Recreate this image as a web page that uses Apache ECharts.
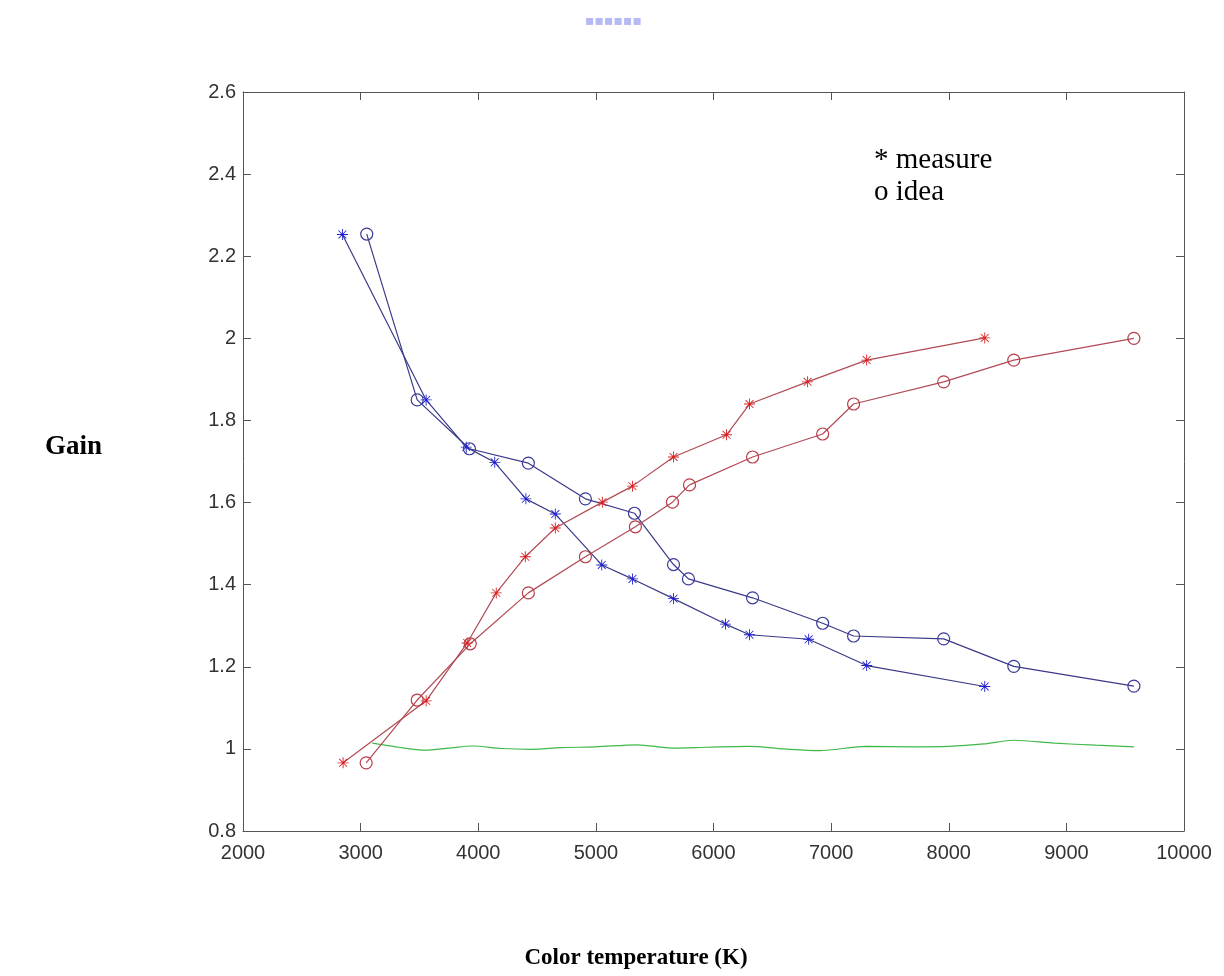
<!DOCTYPE html>
<html>
<head>
<meta charset="utf-8">
<script src="https://cdn.jsdelivr.net/npm/echarts@6/dist/echarts.min.js"></script>
<style>
html,body{margin:0;padding:0;background:#fff;}
#chart{width:1224px;height:976px;}
</style>
</head>
<body>
<div id="chart"></div>
<script>
// Color temperature (K) and gain values
var blueMeasureX = [2845, 3557, 3898, 4140, 4405, 4655, 5050, 5311, 5660, 6102, 6306, 6809, 7302, 8306];
var blueMeasureY = [2.253, 1.850, 1.735, 1.698, 1.609, 1.572, 1.448, 1.414, 1.366, 1.304, 1.278, 1.267, 1.203, 1.152];

var blueIdeaX = [3052, 3481, 3925, 4426, 4911, 5328, 5660, 5787, 6332, 6928, 7191, 7957, 8553, 9574];
var blueIdeaY = [2.254, 1.850, 1.731, 1.696, 1.609, 1.574, 1.449, 1.414, 1.368, 1.306, 1.275, 1.268, 1.201, 1.153];

var redMeasureX = [2851, 3557, 3906, 4153, 4400, 4655, 5055, 5311, 5660, 6111, 6306, 6800, 7302, 8306];
var redMeasureY = [0.966, 1.117, 1.258, 1.380, 1.468, 1.538, 1.601, 1.640, 1.711, 1.765, 1.840, 1.894, 1.947, 2.001];

var redIdeaX = [3047, 3481, 3932, 4426, 4911, 5336, 5651, 5796, 6332, 6928, 7191, 7957, 8553, 9574];
var redIdeaY = [0.966, 1.119, 1.256, 1.380, 1.468, 1.541, 1.601, 1.643, 1.711, 1.767, 1.840, 1.894, 1.947, 2.000];

var greenX = [3100, 3300, 3550, 3750, 3950, 4200, 4450, 4700, 5000, 5350, 5650, 5950, 6300, 6600, 6900, 7300, 7700, 8000, 8300, 8550, 8900, 9250, 9574];
var greenY = [1.014, 1.005, 0.997, 1.002, 1.007, 1.001, 0.999, 1.003, 1.005, 1.010, 1.002, 1.004, 1.006, 1.000, 0.996, 1.006, 1.005, 1.006, 1.012, 1.021, 1.014, 1.009, 1.005];

var xTicks = [2000, 3000, 4000, 5000, 6000, 7000, 8000, 9000, 10000];
var yTicks = [0.8, 1, 1.2, 1.4, 1.6, 1.8, 2, 2.2, 2.4, 2.6];

var yTitle = 'Gain';
var xTitle = 'Color temperature (K)';
var legendLines = ['* measure', 'o idea'];

function pairs(xs, ys) { return xs.map(function (x, i) { return [x, ys[i]]; }); }

var asterisk = 'path://M9.2 0 L10.8 0 L10.8 20 L9.2 20 Z M0 9.2 L20 9.2 L20 10.8 L0 10.8 Z ' +
  'M2.3 3.4 L3.4 2.3 L17.7 16.6 L16.6 17.7 Z M16.6 2.3 L17.7 3.4 L3.4 17.7 L2.3 16.6 Z';

var chart = echarts.init(document.getElementById('chart'), null, {renderer: 'canvas'});

var axisLineStyle = {color: '#555', width: 1};
var labelFont = 'Liberation Sans, Arial, sans-serif';
var serif = '"Liberation Serif", "Times New Roman", serif';

var option = {
  backgroundColor: '#ffffff',
  animation: false,
  grid: {left: 243, top: 92, right: 40, bottom: 145, show: false},
  xAxis: [{
    type: 'value', min: 2000, max: 10000, interval: 1000,
    position: 'bottom',
    axisLine: {show: true, onZero: false, lineStyle: axisLineStyle},
    axisTick: {show: true, inside: true, length: 8, lineStyle: axisLineStyle},
    axisLabel: {show: true, margin: 12, color: '#333', fontSize: 20, fontFamily: labelFont,
      formatter: function (v) { return xTicks.indexOf(v) >= 0 ? String(v) : ''; }},
    splitLine: {show: false}
  }, {
    type: 'value', min: 2000, max: 10000, interval: 1000,
    position: 'top',
    axisLine: {show: true, onZero: false, lineStyle: axisLineStyle},
    axisTick: {show: true, inside: true, length: 8, lineStyle: axisLineStyle},
    axisLabel: {show: false}, splitLine: {show: false}
  }],
  yAxis: [{
    type: 'value', min: 0.8, max: 2.6, interval: 0.2,
    position: 'left',
    axisLine: {show: true, onZero: false, lineStyle: axisLineStyle},
    axisTick: {show: true, inside: true, length: 8, lineStyle: axisLineStyle},
    axisLabel: {show: true, margin: 7, color: '#333', fontSize: 20, fontFamily: labelFont,
      formatter: function (v) { var r = Math.round(v * 10) / 10; return String(r); }},
    splitLine: {show: false}
  }, {
    type: 'value', min: 0.8, max: 2.6, interval: 0.2,
    position: 'right',
    axisLine: {show: true, onZero: false, lineStyle: axisLineStyle},
    axisTick: {show: true, inside: true, length: 8, lineStyle: axisLineStyle},
    axisLabel: {show: false}, splitLine: {show: false}
  }],
  graphic: [
    {type: 'text', x: 874, y: 160, style: {text: legendLines[0], fill: '#000', font: '29px ' + serif, textVerticalAlign: 'middle'}},
    {type: 'text', x: 874, y: 192, style: {text: legendLines[1], fill: '#000', font: '29px ' + serif, textVerticalAlign: 'middle'}},
    {type: 'text', x: 102, y: 447, style: {text: yTitle, fill: '#000', font: 'bold 27px ' + serif, textAlign: 'right', textVerticalAlign: 'middle'}},
    {type: 'text', x: 636, y: 958, style: {text: xTitle, fill: '#000', font: 'bold 23px ' + serif, textAlign: 'center', textVerticalAlign: 'middle'}},
    {type: 'text', left: 585, top: 14, style: {text: '▪▪▪▪▪▪', fill: 'rgba(90,100,230,0.45)', font: '14px "DejaVu Sans", sans-serif'}}
  ],
  series: [
    {
      name: 'green', type: 'line', data: pairs(greenX, greenY), smooth: 0.3,
      showSymbol: false, symbol: 'none',
      lineStyle: {color: '#3fb84a', width: 1.2}
    },
    {
      name: 'blue measure', type: 'line', data: pairs(blueMeasureX, blueMeasureY),
      symbol: asterisk, symbolSize: 11, showAllSymbol: true,
      lineStyle: {color: '#3a3a88', width: 1.2},
      itemStyle: {color: '#1f1fd0'}
    },
    {
      name: 'blue idea', type: 'line', data: pairs(blueIdeaX, blueIdeaY),
      symbol: 'circle', symbolSize: 12, showAllSymbol: true,
      lineStyle: {color: '#3a3a88', width: 1.2},
      itemStyle: {color: 'rgba(0,0,0,0)', borderColor: '#3a3a9a', borderWidth: 1.2}
    },
    {
      name: 'red measure', type: 'line', data: pairs(redMeasureX, redMeasureY),
      symbol: asterisk, symbolSize: 11, showAllSymbol: true,
      lineStyle: {color: '#b24a55', width: 1.2},
      itemStyle: {color: '#d82020'}
    },
    {
      name: 'red idea', type: 'line', data: pairs(redIdeaX, redIdeaY),
      symbol: 'circle', symbolSize: 12, showAllSymbol: true,
      lineStyle: {color: '#b24a55', width: 1.2},
      itemStyle: {color: 'rgba(0,0,0,0)', borderColor: '#b83c48', borderWidth: 1.2}
    }
  ]
};

chart.setOption(option);
</script>
</body>
</html>
